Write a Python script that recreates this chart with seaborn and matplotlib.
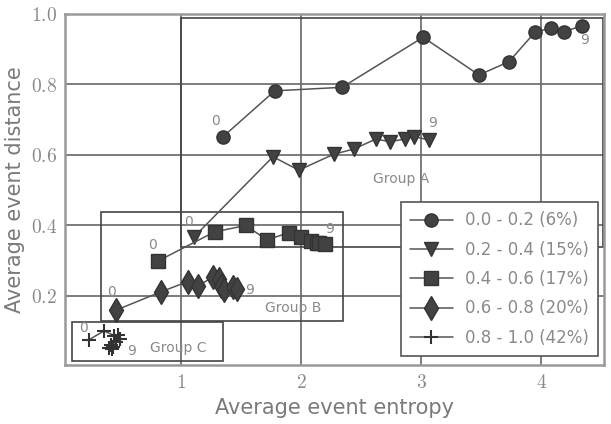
import matplotlib
matplotlib.use("Agg")
import matplotlib.pyplot as plt
import matplotlib.patches as patches
from matplotlib.ticker import FormatStrFormatter
import seaborn as sns

sns.set_theme(style="white")
plt.rcParams.update({
    'font.family': ['DejaVu Sans'],
    'mathtext.fontset': 'cm',
    'axes.edgecolor': '#999999',
    'axes.linewidth': 1.8,
})

# --- data ---
labels = ["0.0 - 0.2 (6%)", "0.2 - 0.4 (15%)", "0.4 - 0.6 (17%)",
          "0.6 - 0.8 (20%)", "0.8 - 1.0 (42%)"]
markers = ["o", "v", "s", "d", "+"]
msizes = [9.5, 9.5, 10, 12, 10]

x_a = [1.35, 1.78, 2.34, 3.015, 3.48, 3.73, 3.95, 4.08, 4.19, 4.34]
y_a = [0.652, 0.782, 0.792, 0.934, 0.827, 0.865, 0.950, 0.959, 0.950, 0.967]

x_b = [1.11, 1.765, 1.98, 2.27, 2.44, 2.62, 2.74, 2.86, 2.94, 3.06]
y_b = [0.368, 0.595, 0.557, 0.602, 0.617, 0.645, 0.638, 0.645, 0.652, 0.643]

x_c = [0.807, 1.28, 1.54, 1.715, 1.90, 2.00, 2.085, 2.13, 2.15, 2.20]
y_c = [0.299, 0.382, 0.400, 0.359, 0.380, 0.367, 0.356, 0.351, 0.349, 0.347]

x_d = [0.46, 0.835, 1.057, 1.14, 1.27, 1.315, 1.335, 1.36, 1.43, 1.465]
y_d = [0.160, 0.212, 0.241, 0.228, 0.255, 0.247, 0.228, 0.217, 0.226, 0.219]

x_e = [0.23, 0.36, 0.446, 0.473, 0.49, 0.46, 0.42, 0.43, 0.40, 0.424]
y_e = [0.075, 0.101, 0.087, 0.089, 0.077, 0.070, 0.061, 0.054, 0.052, 0.049]

series_x = [x_a, x_b, x_c, x_d, x_e]
series_y = [y_a, y_b, y_c, y_d, y_e]

# "0" / "9" annotations (start, end) positions
first_lbl = [(1.29, 0.695), (1.06, 0.41), (0.76, 0.345), (0.42, 0.21), (0.19, 0.11)]
last_lbl = [(4.36, 0.925), (3.09, 0.69), (2.24, 0.39), (1.57, 0.218), (0.59, 0.045)]

# group boxes: (x0, y0, x1, y1)
group_names = ["Group A", "Group B", "Group C"]
group_boxes = [(1.0, 0.34, 4.51, 0.989), (0.3375, 0.129, 2.346, 0.438), (0.096, 0.016, 1.346, 0.126)]
group_text = [(2.835, 0.531), (1.93, 0.165), (0.98, 0.052)]

fig = plt.figure(figsize=(6.11, 4.24), dpi=100)
ax = fig.add_axes([0.107, 0.139, 0.8815, 0.828])

mk_color = "#424242"
line_color = "#555555"
txt_color = "#8a8a8a"

for xs, ys, lab, m, ms in zip(series_x, series_y, labels, markers, msizes):
    kw = dict(markerfacecolor=mk_color, markeredgecolor="#333333", markeredgewidth=1.0)
    if m == "+":
        kw = dict(markeredgecolor="#333333", markeredgewidth=1.5)
    sns.lineplot(x=xs, y=ys, ax=ax, sort=False, estimator=None, color=line_color,
                 lw=1.1, marker=m, markersize=ms, label=lab, zorder=3, **kw)

for (fx, fy), (lx, ly) in zip(first_lbl, last_lbl):
    ax.text(fx, fy, "0", color=txt_color, fontsize=10, ha="center", va="center")
    ax.text(lx, ly, "9", color=txt_color, fontsize=10, ha="center", va="center")

for name, (x0, y0, x1, y1), (tx, ty) in zip(group_names, group_boxes, group_text):
    ax.add_patch(patches.Rectangle((x0, y0), x1 - x0, y1 - y0, fill=False,
                                   edgecolor="#444444", lw=1.2, zorder=2))
    ax.text(tx, ty, name, color=txt_color, fontsize=10, ha="center", va="center")

ax.set_xlim(0.0375, 4.52)
ax.set_ylim(0.004, 1.0)
ax.set_xticks([1, 2, 3, 4])
ax.set_yticks([0.2, 0.4, 0.6, 0.8, 1.0])
ax.xaxis.set_major_formatter(FormatStrFormatter("$%d$"))
ax.yaxis.set_major_formatter(FormatStrFormatter("$%.1f$"))
ax.tick_params(axis="both", labelsize=14, colors=txt_color, length=0, pad=6)
ax.grid(True, color="#666666", lw=1.2)
ax.set_axisbelow(True)

ax.set_xlabel("Average event entropy", fontsize=15, color="#7a7a7a", labelpad=4)
ax.set_ylabel("Average event distance", fontsize=15, color="#7a7a7a", labelpad=4)

leg = ax.legend(loc="lower right", bbox_to_anchor=(0.9885, 0.026), borderaxespad=0,
                fontsize=12, handlelength=2.6, handletextpad=0.7, borderpad=0.55,
                labelspacing=0.68, fancybox=False, framealpha=1, edgecolor="#555555")
leg.get_frame().set_linewidth(1.2)
for t in leg.get_texts():
    t.set_color(txt_color)

fig.savefig("out.png", dpi=100)
